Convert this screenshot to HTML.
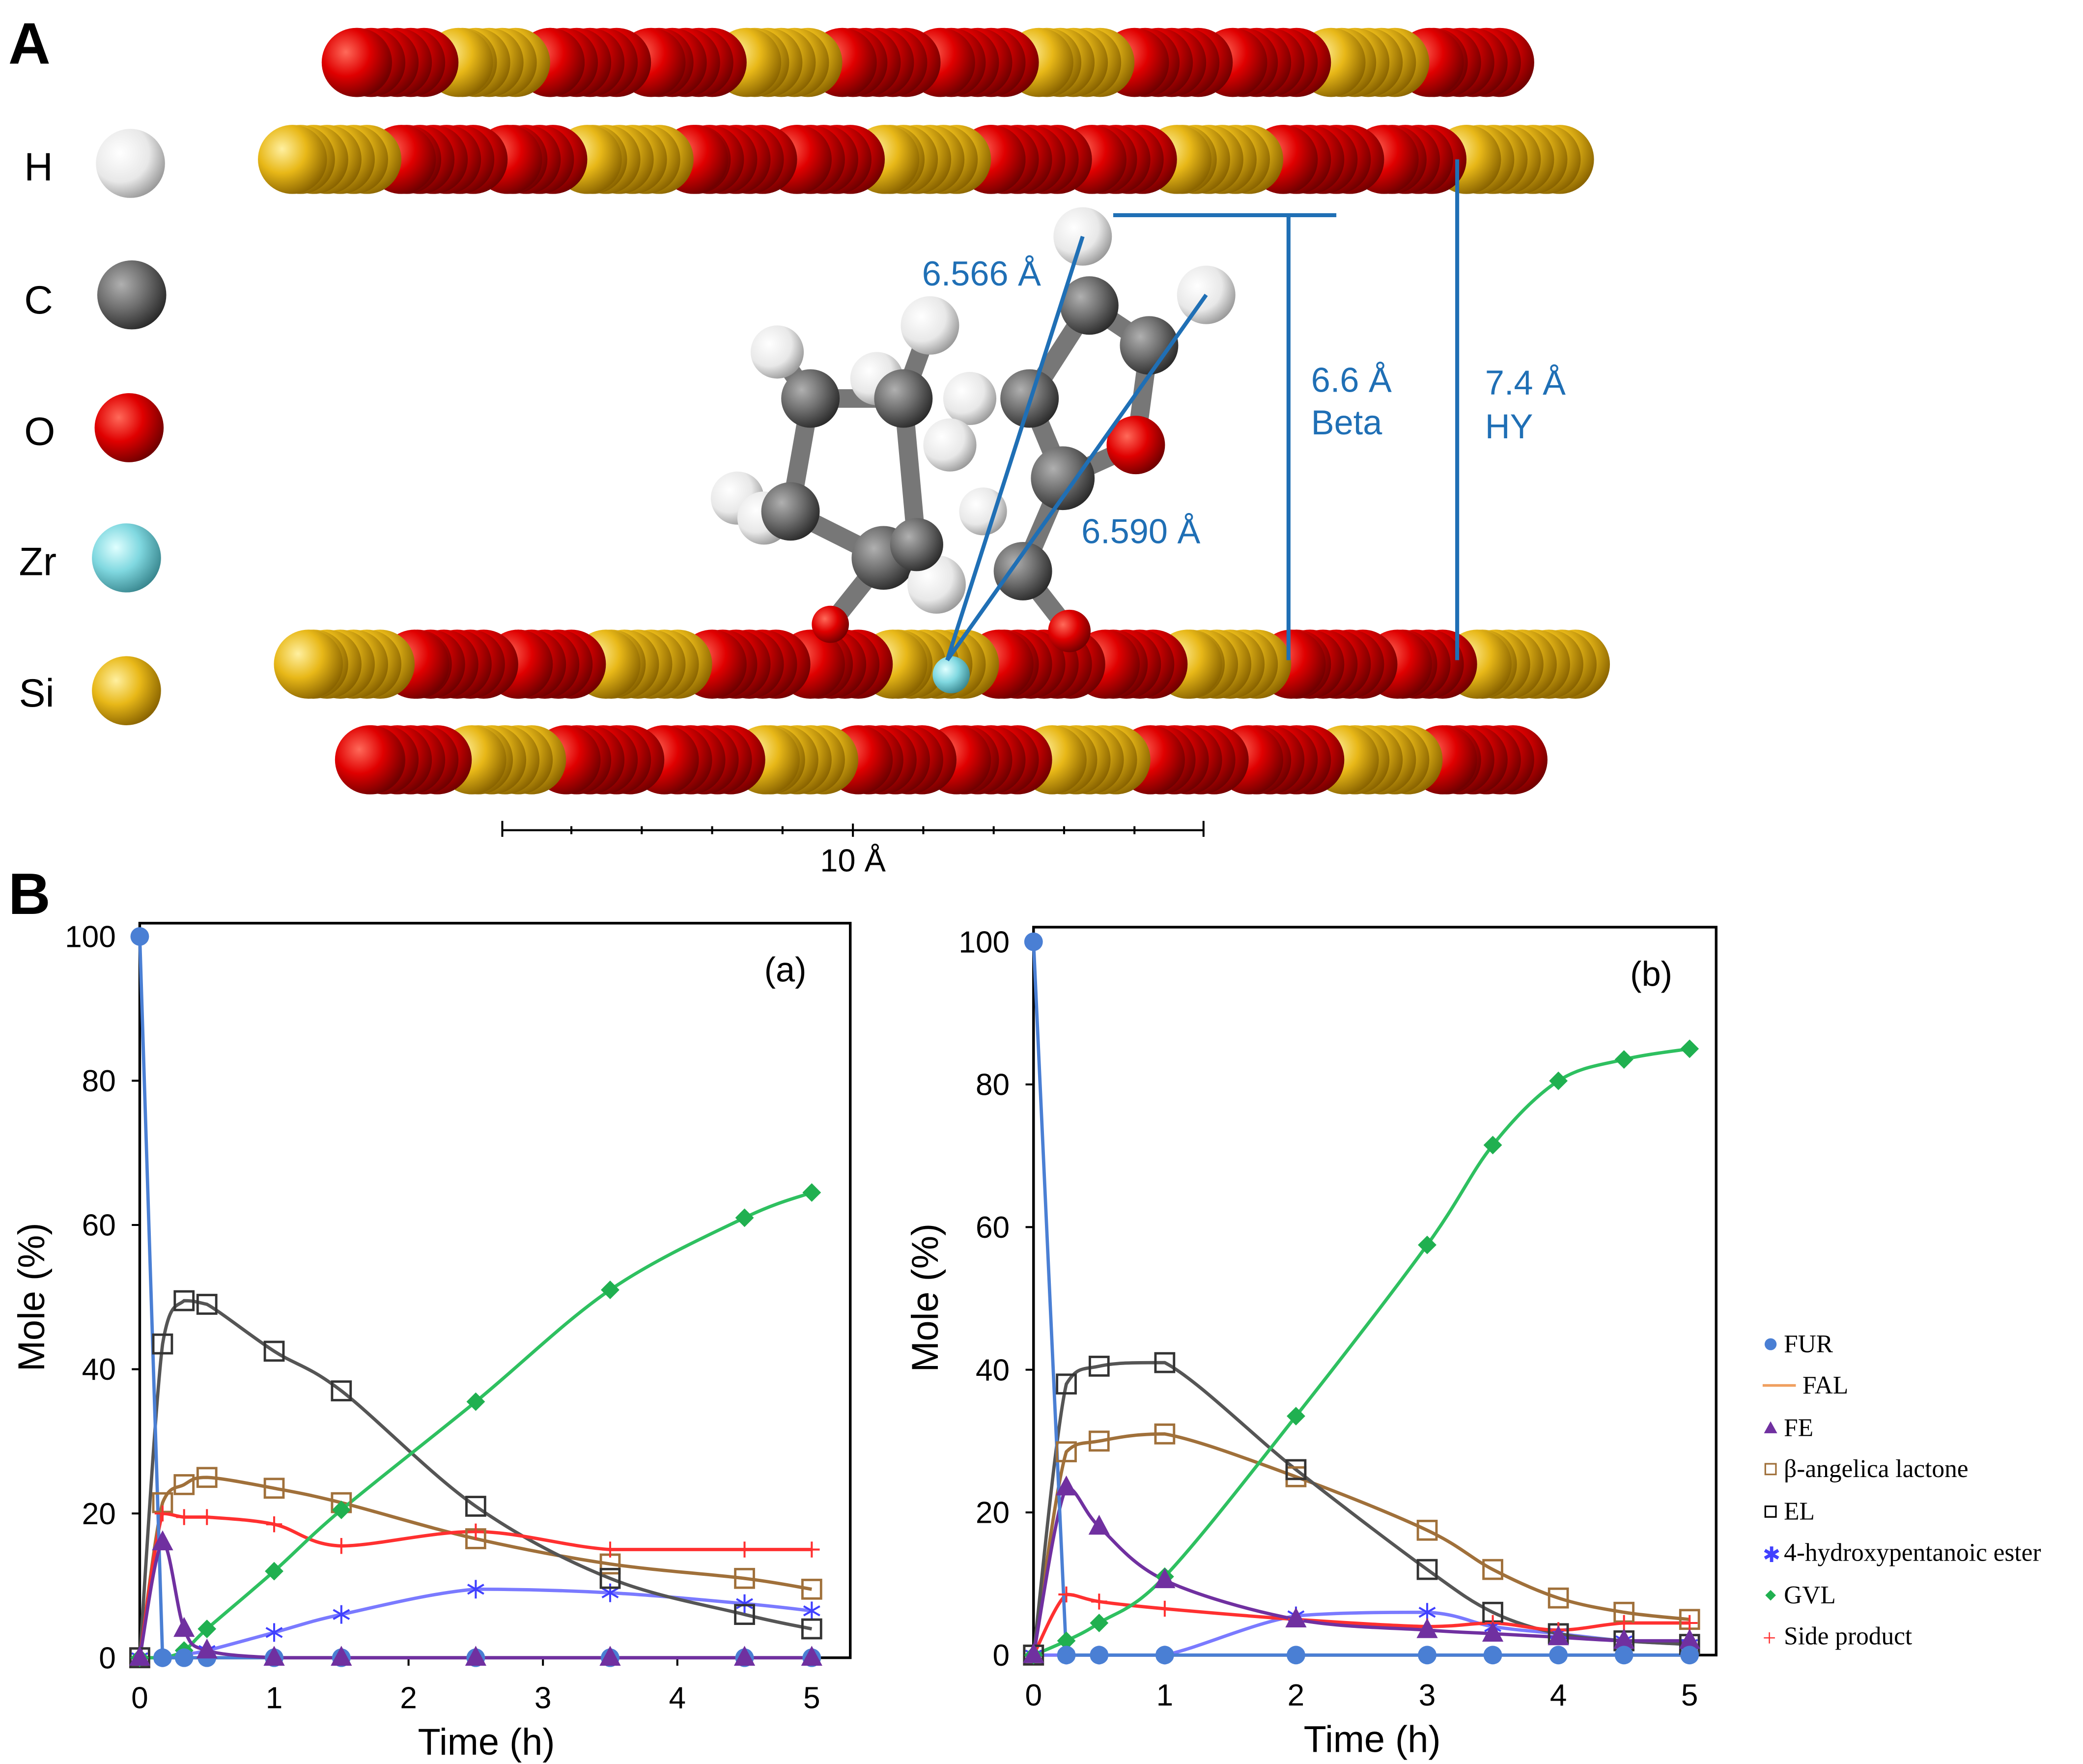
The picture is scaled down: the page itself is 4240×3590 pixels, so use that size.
<!DOCTYPE html>
<html><head><meta charset="utf-8">
<style>
html,body{margin:0;padding:0;background:#fff;}
svg{display:block;}
text{font-family:"Liberation Sans",sans-serif;}
.serif{font-family:"Liberation Serif",serif;}
</style></head>
<body>
<svg id="s" xmlns="http://www.w3.org/2000/svg" width="4240" height="3590" viewBox="0 0 1568 1328">
<defs>
<radialGradient id="gr" cx="0.35" cy="0.35" r="0.7"><stop offset="0" stop-color="#ff6a5a"/><stop offset="0.5" stop-color="#e00000"/><stop offset="1" stop-color="#700000"/></radialGradient>
<radialGradient id="gy" cx="0.35" cy="0.35" r="0.7"><stop offset="0" stop-color="#fff0a0"/><stop offset="0.5" stop-color="#e8b818"/><stop offset="1" stop-color="#8a6400"/></radialGradient>
<radialGradient id="gw" cx="0.35" cy="0.35" r="0.7"><stop offset="0" stop-color="#ffffff"/><stop offset="0.6" stop-color="#e8e8e8"/><stop offset="1" stop-color="#9a9a9a"/></radialGradient>
<radialGradient id="gc" cx="0.35" cy="0.35" r="0.7"><stop offset="0" stop-color="#b0b0b0"/><stop offset="0.5" stop-color="#707070"/><stop offset="1" stop-color="#2a2a2a"/></radialGradient>
<radialGradient id="gz" cx="0.35" cy="0.35" r="0.7"><stop offset="0" stop-color="#e0ffff"/><stop offset="0.5" stop-color="#80d8e0"/><stop offset="1" stop-color="#3a8890"/></radialGradient>
</defs>
<g id="atoms"></g>
<g id="mol"></g>
<text x="18" y="136" font-size="30">H</text>
<text x="18" y="236" font-size="30">C</text>
<text x="18" y="335" font-size="30">O</text>
<text x="14" y="433" font-size="30">Zr</text>
<text x="14" y="532" font-size="30">Si</text>
<circle cx="98" cy="123" r="26" fill="url(#gw)"/>
<circle cx="99" cy="222" r="26" fill="url(#gc)"/>
<circle cx="97" cy="322" r="26" fill="url(#gr)"/>
<circle cx="95" cy="420" r="26" fill="url(#gz)"/>
<circle cx="95" cy="520" r="26" fill="url(#gy)"/>
<text x="6" y="48" font-size="44" font-weight="bold">A</text>
<text x="6" y="688" font-size="44" font-weight="bold">B</text>
<g stroke="#1f6fb5" stroke-width="3" fill="none">
<line x1="713" y1="497" x2="815" y2="178"/>
<line x1="713" y1="497" x2="908" y2="222"/>
<line x1="838" y1="162" x2="1006" y2="162"/>
<line x1="970" y1="162" x2="970" y2="497"/>
<line x1="1097" y1="120" x2="1097" y2="497"/>
</g>
<g fill="#1f6fb5" font-size="26">
<text x="694" y="215">6.566 Å</text>
<text x="814" y="409">6.590 Å</text>
<text x="987" y="295">6.6 Å</text>
<text x="987" y="327">Beta</text>
<text x="1118" y="297">7.4 Å</text>
<text x="1118" y="330">HY</text>
</g>
<g stroke="#000" stroke-width="1.5">
<line x1="378" y1="625" x2="906" y2="625"/>
<line x1="378" y1="618" x2="378" y2="630"/><line x1="906" y1="618" x2="906" y2="630"/>
<line x1="430" y1="622" x2="430" y2="628"/><line x1="483" y1="622" x2="483" y2="628"/><line x1="536" y1="622" x2="536" y2="628"/><line x1="589" y1="622" x2="589" y2="628"/><line x1="642" y1="620" x2="642" y2="630"/><line x1="695" y1="622" x2="695" y2="628"/><line x1="748" y1="622" x2="748" y2="628"/><line x1="801" y1="622" x2="801" y2="628"/><line x1="854" y1="622" x2="854" y2="628"/>
</g>
<text x="642" y="656" font-size="24" text-anchor="middle">10 Å</text>
<g id="charts"></g>
<g class="serif" font-size="19">
<circle cx="1333" cy="1012" r="4.5" fill="#4a7fd4"/><text class="serif" x="1343" y="1018">FUR</text>
<line x1="1327" y1="1043" x2="1352" y2="1043" stroke="#f0a060" stroke-width="2"/><text class="serif" x="1357" y="1049">FAL</text>
<polygon points="1333,1070 1338,1079 1328,1079" fill="#7030a0"/><text class="serif" x="1343" y="1081">FE</text>
<rect x="1329" y="1102" width="8" height="8" fill="none" stroke="#a0703a" stroke-width="1.2"/><text class="serif" x="1343" y="1112">β-angelica lactone</text>
<rect x="1329" y="1134" width="8" height="8" fill="none" stroke="#000" stroke-width="1.2"/><text class="serif" x="1343" y="1144">EL</text>
<text class="serif" x="1327" y="1176" fill="#4040ff" font-size="16">✱</text><text class="serif" x="1343" y="1175">4-hydroxypentanoic ester</text>
<polygon points="1333,1197 1337,1201 1333,1205 1329,1201" fill="#20b050"/><text class="serif" x="1343" y="1207">GVL</text>
<text class="serif" x="1327" y="1239" fill="#ff3030" font-size="18">+</text><text class="serif" x="1343" y="1238">Side product</text>
</g>
</svg>
<script>
var NS="http://www.w3.org/2000/svg";
function el(p,t,a){var e=document.createElementNS(NS,t);for(var k in a)e.setAttribute(k,a[k]);p.appendChild(e);return e;}
var atoms=document.getElementById('atoms');
function row(y,list,end){
  for(var i=list.length-1;i>=0;i--){
    var t=list[i][0],x=list[i][1];
    var nx=(i<list.length-1)?list[i+1][1]:end;
    for(var xx=nx-26;xx>=x;xx-=10){
      el(atoms,'circle',{cx:xx,cy:y,r:26,fill:t=='r'?'url(#gr)':'url(#gy)'});
    }
    el(atoms,'circle',{cx:x,cy:y,r:26,fill:t=='r'?'url(#gr)':'url(#gy)'});
  }
}
row(47,[['r',268],['y',345],['r',414],['r',490],['y',562],['r',634],['r',708],['y',782],['r',854],['r',928],['y',1002],['r',1076]],1155);
row(120,[['y',220],['r',302],['r',382],['y',442],['r',522],['r',600],['y',666],['r',746],['r',822],['y',886],['r',966],['r',1042],['y',1104]],1200);
row(572,[['r',278],['y',355],['r',426],['r',500],['y',576],['r',646],['r',720],['y',792],['r',866],['r',940],['y',1012],['r',1086]],1165);
row(500,[['y',232],['r',312],['r',390],['y',456],['r',536],['r',610],['y',672],['r',752],['r',832],['y',894],['r',972],['r',1052],['y',1112]],1212);
el(atoms,'circle',{cx:716,cy:508,r:14,fill:'url(#gz)'});
var mol=document.getElementById('mol');
var bonds=[[610,300,680,300],[680,300,690,410],[610,300,595,385],[595,385,665,420],[665,420,690,410],[665,420,625,470],[775,300,820,230],[775,300,800,360],[800,360,770,430],[820,230,865,260],[865,260,855,335],[855,335,800,360],[770,430,805,475],[680,300,700,245],[610,300,585,265]];
bonds.forEach(function(b){el(mol,'line',{x1:b[0],y1:b[1],x2:b[2],y2:b[3],stroke:'#777',"stroke-width":14,"stroke-linecap":"round"});});
var ms=[['w',585,265,20],['w',660,285,20],['c',610,300,22],['w',700,245,22],['c',680,300,22],['w',730,300,20],['w',555,375,20],['w',575,390,20],['c',595,385,22],['w',715,335,20],['c',665,420,24],['w',705,440,22],['c',690,410,20],['r',625,470,14],['w',815,178,22],['w',908,222,22],['c',820,230,22],['c',865,260,22],['c',775,300,22],['r',855,335,22],['c',800,360,24],['c',770,430,22],['r',805,475,16],['w',740,385,18]];
ms.forEach(function(m){el(mol,'circle',{cx:m[1],cy:m[2],r:m[3],fill:{w:'url(#gw)',c:'url(#gc)',r:'url(#gr)'}[m[0]]});});
var ch=document.getElementById('charts');
function cl(v,a,b){var lo=Math.min(a,b),hi=Math.max(a,b);return Math.max(lo,Math.min(hi,v));}
function spline(pts,straight){
  var d='M'+pts[0][0]+','+pts[0][1];
  for(var i=0;i<pts.length-1;i++){
    var p0=pts[i-1]||pts[i],p1=pts[i],p2=pts[i+1],p3=pts[i+2]||p2;
    if(straight){d+=' L'+p2;continue;}
    var c1=[p1[0]+(p2[0]-p0[0])/6,cl(p1[1]+(p2[1]-p0[1])/6,p1[1],p2[1])];
    var c2=[p2[0]-(p3[0]-p1[0])/6,cl(p2[1]-(p3[1]-p1[1])/6,p1[1],p2[1])];
    d+=' C'+c1+' '+c2+' '+p2;
  }
  return d;
}
function marker(g,type,x,y,col){
  if(type=='o')el(g,'circle',{cx:x,cy:y,r:7,fill:col});
  else if(type=='t')el(g,'polygon',{points:(x)+','+(y-9)+' '+(x+8)+','+(y+6)+' '+(x-8)+','+(y+6),fill:col});
  else if(type=='s')el(g,'rect',{x:x-7,y:y-7,width:14,height:14,fill:'#fff',"fill-opacity":0,stroke:col,"stroke-width":1.8});
  else if(type=='d')el(g,'polygon',{points:x+','+(y-7)+' '+(x+7)+','+y+' '+x+','+(y+7)+' '+(x-7)+','+y,fill:col});
  else if(type=='*'){for(var a=0;a<3;a++){var an=a*Math.PI/3+Math.PI/2;el(g,'line',{x1:x-7*Math.cos(an),y1:y-7*Math.sin(an),x2:x+7*Math.cos(an),y2:y+7*Math.sin(an),stroke:col,"stroke-width":1.5});}}
  else if(type=='+'){el(g,'line',{x1:x-6,y1:y,x2:x+6,y2:y,stroke:col,"stroke-width":1.5});el(g,'line',{x1:x,y1:y-6,x2:x,y2:y+6,stroke:col,"stroke-width":1.5});}
}
function chart(o){
  var g=el(ch,'g',{});
  var X=function(v){return o.x0+v*o.sx;},Y=function(v){return o.y0-v*o.sy;};
  el(g,'rect',{x:o.x0,y:o.top,width:o.right-o.x0,height:o.y0-o.top,fill:'none',stroke:'#000',"stroke-width":2});
  for(var i=0;i<=5;i++){el(g,'line',{x1:X(i),y1:o.y0,x2:X(i),y2:o.y0+6,stroke:'#000',"stroke-width":1.5});var t=el(g,'text',{x:X(i),y:o.y0+38,"font-size":23,"text-anchor":"middle"});t.textContent=i;}
  for(var v=0;v<=100;v+=20){el(g,'line',{x1:o.x0-6,y1:Y(v),x2:o.x0,y2:Y(v),stroke:'#000',"stroke-width":1.5});var t=el(g,'text',{x:o.x0-18,y:Y(v)+8,"font-size":23,"text-anchor":"end"});t.textContent=v;}
  var t=el(g,'text',{x:(o.x0+X(5))/2+8,y:o.y0+73,"font-size":28,"text-anchor":"middle"});t.textContent='Time (h)';
  t=el(g,'text',{x:0,y:0,"font-size":28,"text-anchor":"middle",transform:'translate('+(o.x0-72)+','+((o.top+o.y0)/2+5)+') rotate(-90)'});t.textContent='Mole (%)';
  t=el(g,'text',{x:o.right-33,y:o.top+44,"font-size":26,"text-anchor":"end"});t.textContent=o.lab;
  var xs=o.xs;
  o.series.forEach(function(s){
    var pts=xs.map(function(x,i){return [X(x),Y(s.v[i])];});
    el(g,'path',{d:spline(pts,s.st),fill:'none',stroke:s.lc,"stroke-width":2.5});
  });
  o.series.forEach(function(s){
    if(!s.m)return;
    xs.forEach(function(x,i){marker(g,s.m,X(x),Y(s.v[i]),s.mc);});
  });
}
var z=[0,0,0,0,0,0,0,0,0,0];
chart({x0:105,sx:101.2,y0:1248,sy:5.43,top:695,right:640,lab:'(a)',xs:[0,0.17,0.33,0.5,1,1.5,2.5,3.5,4.5,5],series:[
 {v:z,lc:'#f0a060'},
 {v:[0,0,0.5,1,3.5,6,9.5,9,7.5,6.5],lc:'#7a7aff',m:'*',mc:'#4040ff'},
 {v:[0,21.5,24,25,23.5,21.5,16.5,13,11,9.5],lc:'#a0703a',m:'s',mc:'#a0703a'},
 {v:[0,43.5,49.5,49,42.5,37,21,11,6,4],lc:'#555',m:'s',mc:'#333'},
 {v:[0,20,19.5,19.5,18.5,15.5,17.5,15,15,15],lc:'#ff3030',m:'+',mc:'#ff3030'},
 {v:[0,0,1,4,12,20.5,35.5,51,61,64.5],lc:'#2ec060',m:'d',mc:'#20b050'},
 {v:[100,0,0,0,0,0,0,0,0,0],lc:'#4a7fd4',m:'o',mc:'#4a7fd4',st:1},
 {v:[0,16,4,1,0,0,0,0,0,0],lc:'#7030a0',m:'t',mc:'#7030a0'}
]});
chart({x0:778,sx:98.8,y0:1246,sy:5.37,top:698,right:1292,lab:'(b)',xs:[0,0.25,0.5,1,2,3,3.5,4,4.5,5],series:[
 {v:z,lc:'#f0a060'},
 {v:[0,0,0,0,5.5,6,4,3,2,1.5],lc:'#7a7aff',m:'*',mc:'#4040ff'},
 {v:[0,28.5,30,31,25,17.5,12,8,6,5],lc:'#a0703a',m:'s',mc:'#a0703a'},
 {v:[0,38,40.5,41,26,12,6,3,2,1.5],lc:'#555',m:'s',mc:'#333'},
 {v:[0,8.5,7.5,6.5,5,4,4.5,3.5,4.5,4.5],lc:'#ff3030',m:'+',mc:'#ff3030'},
 {v:[0,2,4.5,11,33.5,57.5,71.5,80.5,83.5,85],lc:'#2ec060',m:'d',mc:'#20b050'},
 {v:[0,23.5,18,10.5,5,3.5,3,2.5,2,2],lc:'#7030a0',m:'t',mc:'#7030a0'},
 {v:[100,0,0,0,0,0,0,0,0,0],lc:'#4a7fd4',m:'o',mc:'#4a7fd4',st:1}
]});
</script>
</body></html>
